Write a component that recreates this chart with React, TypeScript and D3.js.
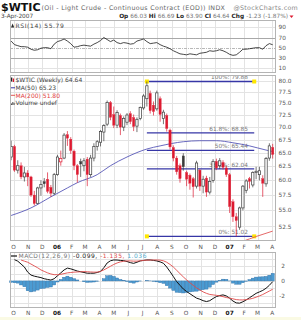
import * as d3 from "d3";
import { useEffect, useRef } from "react";

// weekly candles, one per Monday, 26-Sep-2005 .. 2-Apr-2007
const firstWeek = "2005-09-26";
const lastWeek = "2007-04-02";

const opens = [64.2, 66.2, 61.8, 62.6, 60.6, 61.3, 60.6, 57.5, 56.1, 58.7,
  59.8, 60.2, 58.8, 57.8, 61.0, 63.3, 64.0, 68.5, 67.6, 65.3,
  62.6, 63.4, 62.6, 63.8, 61.0, 64.0, 66.2, 67.0, 69.0, 70.6,
  75.2, 72.6, 70.4, 72.4, 70.0, 71.0, 72.8, 72.0, 70.2, 71.8,
  74.0, 76.0, 77.2, 74.6, 73.8, 76.0, 71.8, 72.4, 69.4, 66.0,
  64.0, 62.6, 64.4, 61.4, 60.9, 60.3, 59.0, 61.8, 59.0, 60.4,
  58.0, 60.0, 63.4, 62.6, 63.2, 62.2, 61.0, 56.4, 54.0, 52.4,
  55.4, 58.3, 60.3, 59.2, 61.4, 61.0, 60.3, 59.4, 64.0, 66.03];
const highs = [67.3, 66.5, 63.6, 63.2, 62.4, 61.8, 60.8, 58.2, 58.9, 60.0,
  60.4, 61.4, 59.2, 61.3, 64.6, 65.4, 68.8, 69.2, 68.0, 65.6,
  62.9, 63.9, 64.0, 64.2, 64.6, 66.8, 67.4, 69.4, 70.6, 75.6,
  75.5, 74.3, 73.5, 72.8, 72.2, 72.9, 73.3, 72.6, 72.0, 74.3,
  77.0, 79.88, 77.8, 75.4, 77.8, 76.5, 73.6, 72.8, 69.7, 66.4,
  64.4, 63.0, 64.9, 61.7, 61.2, 60.6, 63.5, 62.0, 60.8, 60.8,
  60.6, 63.8, 63.9, 64.0, 63.6, 62.6, 61.3, 56.8, 54.6, 55.6,
  59.2, 60.2, 60.6, 61.6, 62.4, 62.4, 60.9, 64.2, 66.8, 66.69];
const lows = [63.6, 61.5, 61.2, 60.2, 59.8, 59.0, 57.2, 55.8, 56.0, 57.4,
  58.8, 57.8, 57.2, 57.5, 60.8, 62.6, 63.8, 66.3, 64.8, 61.8,
  59.6, 60.6, 61.6, 59.0, 60.6, 63.4, 65.4, 66.2, 67.2, 70.2,
  71.4, 69.8, 69.8, 68.4, 69.2, 70.4, 70.6, 69.2, 69.0, 71.4,
  73.6, 74.3, 72.8, 72.4, 73.4, 71.1, 70.6, 69.1, 65.6, 63.4,
  61.0, 59.6, 61.7, 59.0, 58.4, 57.1, 58.6, 58.2, 57.8, 57.2,
  57.6, 59.6, 61.8, 62.0, 61.9, 60.6, 54.6, 53.2, 51.02, 52.0,
  55.0, 57.8, 58.6, 58.8, 60.2, 60.0, 57.2, 58.9, 63.5, 63.9];
const closes = [66.2, 61.8, 62.6, 60.6, 61.3, 60.6, 57.5, 56.1, 58.7, 59.3,
  59.4, 58.1, 57.8, 61.0, 64.2, 63.9, 68.4, 67.8, 65.4, 62.6,
  61.0, 62.9, 63.5, 61.0, 64.0, 66.2, 67.1, 69.1, 70.3, 75.2,
  72.0, 70.4, 73.0, 70.0, 71.8, 72.5, 71.1, 70.1, 71.6, 74.1,
  76.6, 78.9, 73.4, 73.2, 77.3, 72.6, 73.1, 69.7, 66.1, 64.0,
  61.5, 60.3, 62.4, 60.2, 59.5, 58.9, 63.1, 59.0, 60.2, 58.0,
  59.8, 63.4, 62.2, 63.5, 62.3, 61.0, 55.6, 54.0, 53.4, 55.4,
  59.0, 59.9, 59.8, 61.4, 61.6, 61.7, 59.5, 63.9, 66.3, 64.64];

const rsiValues = [63, 56, 54, 52, 52, 51, 47, 45, 46, 49,
  50, 50, 48, 57, 62, 64, 67, 63, 58, 51,
  52, 54, 55, 54, 53, 57, 60, 64, 70, 66,
  62, 65, 60, 58, 60, 59, 57, 58, 63, 65,
  67, 62, 58, 59, 60, 56, 53, 51, 48, 44,
  41, 38, 37, 36, 38, 37, 36, 39, 40, 41,
  44, 43, 44, 46, 44, 41, 37, 35, 36, 41,
  47, 47, 48, 49, 50, 50, 47, 54, 58, 55.79];

const macdValues = [3.1, 2.9, 2.7, 2.3, 1.9, 1.2, 0.8, 0.65, 0.55, 0.45,
  0.3, 0.2, 0.12, 0.3, 0.7, 1.1, 1.5, 1.75, 1.65, 1.5,
  1.35, 1.25, 1.15, 1.05, 1.05, 1.05, 1.15, 1.3, 1.8, 2.45,
  2.75, 2.86, 2.85, 2.8, 2.77, 2.65, 2.5, 2.4, 2.55, 2.73,
  2.8, 2.86, 2.86, 2.8, 2.73, 2.6, 2.41, 1.9, 1.27, 0.6,
  -0.1, -0.6, -1.1, -1.45, -1.75, -2.05, -2.35, -2.5, -2.7, -2.82,
  -2.7, -2.4, -2.14, -2.0, -1.91, -2.05, -2.36, -2.75, -3.0, -3.04,
  -2.85, -2.6, -2.3, -2.0, -1.7, -1.5, -1.3, -1.0, -0.6, -0.099];
const signalValues = [3.3, 3.15, 3.0, 2.85, 2.7, 2.55, 2.3, 2.05, 1.8, 1.5,
  1.3, 1.1, 0.95, 0.85, 0.85, 0.9, 1.0, 1.1, 1.15, 1.2,
  1.22, 1.25, 1.27, 1.25, 1.22, 1.2, 1.2, 1.3, 1.5, 1.75,
  2.0, 2.25, 2.45, 2.6, 2.68, 2.73, 2.73, 2.7, 2.7, 2.75,
  2.8, 2.83, 2.85, 2.86, 2.86, 2.84, 2.75, 2.55, 2.25, 1.9,
  1.45, 1.0, 0.55, 0.14, -0.25, -0.6, -0.95, -1.23, -1.5, -1.7,
  -1.85, -1.91, -1.97, -2.05, -2.15, -2.27, -2.35, -2.45, -2.55, -2.59,
  -2.6, -2.55, -2.48, -2.38, -2.22, -2.05, -1.86, -1.62, -1.38, -1.135];

const ma50Dates = ["2005-09-26", "2005-11-07", "2005-12-19", "2006-01-23", "2006-02-13",
  "2006-03-27", "2006-04-24", "2006-05-29", "2006-07-10", "2006-08-07", "2006-09-25",
  "2006-10-30", "2006-12-04", "2007-01-08", "2007-02-12", "2007-03-19", "2007-04-02"];
const ma50Values = [54.2, 55.4, 57.2, 58.7, 59.6, 61.0, 62.6, 64.2, 65.7, 66.3, 67.1,
  67.3, 67.3, 66.9, 66.3, 65.5, 65.23];
const ma200Dates = ["2007-01-15", "2007-01-29", "2007-02-26", "2007-04-02"];
const ma200Values = [50.0, 50.3, 51.0, 51.8];

const fibNames = ["100%", "61.8%", "50%", "38.2%", "0%"];
const fibValues = [79.88, 68.85, 65.44, 62.04, 51.02];
const fibDates = ["2006-07-10", "2007-02-22"];

const priceTicks = [52.5, 55, 57.5, 60, 62.5, 65, 67.5, 70, 72.5, 75, 77.5, 80];
const rsiTicks = [10, 30, 50, 70, 90];
const macdTicks = [-2, 0, 2];
const monthLabels = ["O", "N", "D", "06", "F", "M", "A", "M", "J", "J", "A", "S", "O", "N", "D", "07", "F", "M", "A"];

const parseDay = d3.timeParse("%Y-%m-%d");

const left = 10, right = 276;
const rsiTop = 20, rsiBottom = 73;
const mainTop = 75, mainBottom = 241;
const macdTop = 252, macdBottom = 308;
const red = "#dd1a30";
const ink = "#444";

function draw(svg) {
  const weeks = d3.timeMonday.range(parseDay(firstWeek), d3.timeDay.offset(parseDay(lastWeek), 1));
  const months = d3.timeMonth.range(new Date(2005, 9, 1), new Date(2007, 3, 2));

  const x = d3.scaleTime().domain([new Date(2005, 9, 1), new Date(2007, 3, 1)]).range([13.5, 272.2]);
  const yPrice = d3.scaleLog().domain([50.34, 81.4]).range([mainBottom, mainTop]);
  const yRsi = d3.scaleLinear().domain([0, 100]).range([73.2, 22.2]);
  const yMacd = d3.scaleLinear().domain([-3.7, 3.95]).range([macdBottom, macdTop]);

  svg.append("rect").attr("width", 301).attr("height", 320).attr("fill", "#fff");
  svg.append("rect").attr("y", 317).attr("width", 301).attr("height", 3).attr("fill", "#fafae4");

  // header
  svg.append("text").attr("x", 1).attr("y", 10.5).attr("font-size", 11).attr("font-weight", "bold")
    .attr("fill", "#111").text("$WTIC");
  svg.append("text").attr("x", 41.5).attr("y", 10).attr("font-size", 6.3).attr("letter-spacing", 0.35)
    .attr("fill", "#666").text("(Oil - Light Crude - Continuous Contract (EOD)) INDX");
  svg.append("text").attr("x", 298).attr("y", 10).attr("font-size", 6.3).attr("letter-spacing", 0.3)
    .attr("fill", "#888").attr("text-anchor", "end").text("@StockCharts.com");
  svg.append("text").attr("x", 1).attr("y", 18).attr("font-size", 5.8).attr("fill", ink).text("3-Apr-2007");

  const quote = svg.append("text").attr("x", 288).attr("y", 18).attr("font-size", 5.8)
    .attr("text-anchor", "end").attr("fill", "#777");
  [["Op", "66.03"], ["Hi", "66.69"], ["Lo", "63.90"], ["Cl", "64.64"], ["Chg", "-1.23 (-1.87%)"]].forEach(([k, v], i) => {
    quote.append("tspan").attr("font-weight", "bold").attr("fill", "#222").text((i ? "  " : "") + k + " ");
    quote.append("tspan").text(v);
  });
  svg.append("path").attr("d", "M289.5,15.5 L293.5,15.5 L291.5,18 Z").attr("fill", red);

  // panels
  const panels = [[rsiTop, rsiBottom], [mainTop, mainBottom], [macdTop, macdBottom]];
  panels.forEach(([t, b]) => {
    const g = svg.append("g").attr("shape-rendering", "crispEdges");
    g.selectAll("line.v").data(months).enter().append("line")
      .attr("x1", (d) => Math.round(x(d)) + 0.5).attr("x2", (d) => Math.round(x(d)) + 0.5)
      .attr("y1", t).attr("y2", b).attr("stroke", "#e3e3e3");
  });

  const hGrid = (vals, scale) => svg.append("g").attr("shape-rendering", "crispEdges")
    .selectAll("line").data(vals).enter().append("line")
    .attr("x1", left).attr("x2", right)
    .attr("y1", (d) => Math.round(scale(d)) + 0.5).attr("y2", (d) => Math.round(scale(d)) + 0.5)
    .attr("stroke", "#e3e3e3");
  hGrid(priceTicks, yPrice);
  hGrid([10, 90], yRsi);
  hGrid([-3, -1, 1, 3], yMacd);
  hGrid(macdTicks, yMacd);

  // RSI panel
  svg.append("g").attr("shape-rendering", "crispEdges").selectAll("line").data([30, 70]).enter().append("line")
    .attr("x1", left).attr("x2", right)
    .attr("y1", (d) => Math.round(yRsi(d)) + 0.5).attr("y2", (d) => Math.round(yRsi(d)) + 0.5)
    .attr("stroke", "#a8a8a8");
  svg.append("line").attr("x1", left).attr("x2", right)
    .attr("y1", Math.round(yRsi(50)) + 0.5).attr("y2", Math.round(yRsi(50)) + 0.5)
    .attr("stroke", "#b8b8b8").attr("stroke-dasharray", "3,1,1,1");

  const rsiLine = d3.line().x((d, i) => x(weeks[i])).y((d) => yRsi(d));
  svg.append("path").attr("d", rsiLine(rsiValues)).attr("fill", "none")
    .attr("stroke", "#1a1a1a").attr("stroke-width", 0.8);

  svg.append("path").attr("d", "M11,27.5 L12.6,23.5 L14.2,27.5 Z").attr("fill", "#2a2a2a");
  svg.append("text").attr("x", 15.5).attr("y", 27.5).attr("font-size", 6).attr("letter-spacing", 0.6)
    .attr("fill", ink).text("RSI(14) 55.79");

  // main panel
  svg.append("clipPath").attr("id", "mainClip").append("rect")
    .attr("x", left).attr("y", mainTop).attr("width", right - left).attr("height", mainBottom - mainTop);
  const main = svg.append("g").attr("clip-path", "url(#mainClip)");

  const fx0 = x(parseDay(fibDates[0])), fx1 = x(parseDay(fibDates[1]));
  fibValues.forEach((v, i) => {
    main.append("line").attr("x1", fx0).attr("x2", fx1).attr("y1", yPrice(v)).attr("y2", yPrice(v))
      .attr("stroke", "#3636a6").attr("stroke-width", 1.3);
    main.append("text").attr("x", 248).attr("y", yPrice(v) - 2.2).attr("text-anchor", "end")
      .attr("font-size", 5.8).attr("fill", "#7a7a7a").text(fibNames[i] + ": " + v.toFixed(2));
  });
  [fibValues[0], fibValues[4]].forEach((v) => {
    [fx0, fx1].forEach((fx) => {
      main.append("rect").attr("x", fx - 2).attr("y", yPrice(v) - 2).attr("width", 4).attr("height", 4)
        .attr("fill", "#ffe800");
    });
  });

  const maLine = d3.line().x((d) => x(parseDay(d[0]))).y((d) => yPrice(d[1])).curve(d3.curveMonotoneX);
  main.append("path").attr("d", maLine(d3.zip(ma50Dates, ma50Values))).attr("fill", "none")
    .attr("stroke", "#5858b8").attr("stroke-width", 0.9);
  main.append("path").attr("d", maLine(d3.zip(ma200Dates, ma200Values))).attr("fill", "none")
    .attr("stroke", "#e25858").attr("stroke-width", 0.9);

  const hw = 1.15;
  weeks.forEach((wk, i) => {
    const cx = x(wk);
    const o = opens[i], c = closes[i];
    const prev = i ? closes[i - 1] : o;
    const color = c >= prev ? "#3a3a3a" : red;
    const hollow = c > o;
    const top = yPrice(Math.max(o, c)), bot = yPrice(Math.min(o, c));
    main.append("line").attr("x1", cx).attr("x2", cx).attr("y1", yPrice(highs[i])).attr("y2", top)
      .attr("stroke", color).attr("stroke-width", 0.7);
    main.append("line").attr("x1", cx).attr("x2", cx).attr("y1", bot).attr("y2", yPrice(lows[i]))
      .attr("stroke", color).attr("stroke-width", 0.7);
    main.append("rect").attr("x", cx - hw).attr("y", top).attr("width", hw * 2)
      .attr("height", Math.max(bot - top, 0.8))
      .attr("fill", hollow ? "#fff" : color).attr("stroke", color).attr("stroke-width", hollow ? 0.7 : 0.3);
  });

  // legend
  const lg = svg.append("g").attr("font-size", 6).attr("fill", ink);
  lg.append("rect").attr("x", 11).attr("y", 77.5).attr("width", 1.3).attr("height", 4).attr("fill", "#222");
  lg.append("rect").attr("x", 12.8).attr("y", 78.5).attr("width", 1.3).attr("height", 3.5).attr("fill", red);
  lg.append("text").attr("x", 15.5).attr("y", 82.3).text("$WTIC (Weekly) 64.64");
  lg.append("line").attr("x1", 11).attr("x2", 15).attr("y1", 87.8).attr("y2", 87.8).attr("stroke", "#3636a6").attr("stroke-width", 1);
  lg.append("text").attr("x", 15.5).attr("y", 90).text("MA(50) 65.23");
  lg.append("line").attr("x1", 11).attr("x2", 15).attr("y1", 95.3).attr("y2", 95.3).attr("stroke", "#e25858").attr("stroke-width", 1);
  lg.append("text").attr("x", 15.5).attr("y", 97.5).attr("fill", "#e04040").text("MA(200) 51.80");
  [1.5, 3, 2.2].forEach((h, i) => {
    lg.append("rect").attr("x", 11 + i * 1.3).attr("y", 105 - h).attr("width", 1).attr("height", h).attr("fill", "#555");
  });
  lg.append("text").attr("x", 15.5).attr("y", 105).text("Volume undef");

  // MACD panel
  const macdPanel = svg.append("g");
  const bw = 3.1;
  macdPanel.selectAll("rect.h").data(macdValues).enter().append("rect")
    .attr("x", (d, i) => x(weeks[i]) - bw / 2)
    .attr("y", (d, i) => yMacd(Math.max(0, d - signalValues[i])))
    .attr("width", bw)
    .attr("height", (d, i) => Math.abs(yMacd(d - signalValues[i]) - yMacd(0)))
    .attr("fill", "#4b9bd2").attr("stroke", "#2f6fa6").attr("stroke-width", 0.4);

  const macdLine = d3.line().defined((d) => d[2]).x((d) => x(d[0])).y((d) => yMacd(d[1]));
  macdPanel.append("path")
    .attr("d", macdLine(macdValues.map((v, i) => [weeks[i], v, i >= 1])))
    .attr("fill", "none").attr("stroke", "#111").attr("stroke-width", 1);
  macdPanel.append("path")
    .attr("d", macdLine(signalValues.map((v, i) => [weeks[i], v, i >= 3])))
    .attr("fill", "none").attr("stroke", "#e04a4a").attr("stroke-width", 0.9);

  svg.append("line").attr("x1", 11).attr("x2", 17).attr("y1", 256).attr("y2", 256).attr("stroke", "#111").attr("stroke-width", 1.2);
  const ml = svg.append("text").attr("x", 18.5).attr("y", 258.2).attr("font-size", 6)
    .attr("letter-spacing", 0.5).attr("fill", "#777");
  ml.append("tspan").text("MACD(12,26,9) ");
  ml.append("tspan").attr("fill", "#222").text("-0.099, ");
  ml.append("tspan").attr("fill", "#e04a4a").text("-1.135, ");
  ml.append("tspan").attr("fill", "#55aacc").text("1.036");

  // panel borders
  panels.forEach(([t, b]) => {
    svg.append("rect").attr("x", left + 0.5).attr("y", t + 0.5).attr("width", right - left - 1)
      .attr("height", b - t - 1).attr("fill", "none").attr("stroke", "#b4b4b4").attr("shape-rendering", "crispEdges");
  });

  // right-side labels
  const axisText = svg.append("g").attr("font-size", 5.8).attr("fill", "#555");
  priceTicks.forEach((v) => {
    axisText.append("text").attr("x", 278.5).attr("y", yPrice(v)).attr("dy", "0.35em").text(v.toFixed(1));
  });
  rsiTicks.forEach((v) => {
    axisText.append("text").attr("x", 278.5).attr("y", yRsi(v)).attr("dy", "0.35em").text(v);
  });
  macdTicks.forEach((v) => {
    axisText.append("text").attr("x", 285).attr("y", yMacd(v)).attr("dy", "0.35em")
      .attr("text-anchor", "end").text(v);
  });

  // month labels under main and MACD panels
  [248.8, 315].forEach((ty) => {
    months.forEach((m, i) => {
      const lab = monthLabels[i];
      const yearLab = lab.length === 2;
      axisText.append("text").attr("x", x(m)).attr("y", ty).attr("text-anchor", "middle")
        .attr("font-weight", yearLab ? "bold" : "normal").attr("fill", yearLab ? "#111" : "#555")
        .text(lab);
    });
  });
}

const App = () => {
  const ref = useRef(null);
  useEffect(() => {
    const svg = d3.select(ref.current);
    svg.selectAll("*").remove();
    draw(svg);
  }, []);
  return (
    <div>
      <style>{"body{margin:0}"}</style>
      <svg ref={ref} width={301} height={320}
        style={{ display: "block", fontFamily: "'DejaVu Sans', Verdana, sans-serif" }} />
    </div>
  );
};

export default App;
